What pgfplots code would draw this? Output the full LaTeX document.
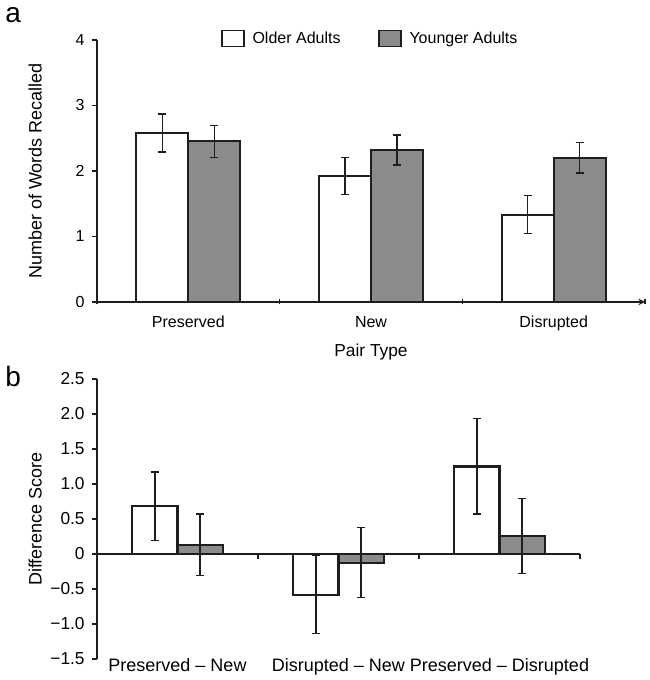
\documentclass[border=0pt]{standalone}
\usepackage{pgfplots}
\pgfplotsset{compat=1.18}
\usepackage{fontspec}
\setmainfont{Liberation Sans}
\definecolor{bargray}{HTML}{8A8B8D}
\definecolor{ink}{HTML}{1E1E1E}
\begin{document}
\begin{tikzpicture}
\path[use as bounding box] (0,0) rectangle (486.75pt,510pt);
\pgfplotsset{
  common/.style={
    scale only axis,
    axis y line=left,
    ybar,
    xmin=-0.5, xmax=2.5,
    axis line style={ink, line width=1.2pt, -},
    major tick length=3.75pt,
    tick style={ink, line width=1.2pt},
    tick align=outside,
    hide obscured x ticks=false,
    hide obscured y ticks=false,
    /pgf/number format/assume math mode=true,
    clip=false,
    yticklabel style={anchor=east, xshift=-2pt},
  },
  errs/.style={
    error bars/y dir=both, error bars/y explicit,
    error bars/error bar style={ink, line width=0.9pt},
    error bars/error mark options={rotate=90, ink, line width=0.9pt, mark size=3pt}},
  oldbar/.style={fill=white, draw=ink, line width=1.6pt, errs},
  youngbar/.style={fill=bargray, draw=ink, line width=1.6pt, errs},
}
\node[anchor=base west, font=\fontsize{21}{24}\selectfont, inner sep=0pt] at (3.75pt,492.75pt) {a};
\node[anchor=base west, font=\fontsize{21}{24}\selectfont, inner sep=0pt] at (3.75pt,219.75pt) {b};
% ---------------- panel a
\begin{axis}[common,
  at={(72.75pt,283.5pt)}, anchor=south west,
  width=411pt, height=196.5pt,
  axis x line=bottom,
  bar width=0.285,
  ymin=0, ymax=4, ytick={0,1,2,3,4},
  yticklabel style={font=\fontsize{12}{14}\selectfont},
  xtick={-0.5,0.5,1.5,2.5}, xticklabels={},
  extra x ticks={0,1,2},
  extra x tick labels={Preserved,New,Disrupted},
  extra x tick style={major tick length=0pt,
    xticklabel style={anchor=base, yshift=-19pt, font=\fontsize{12}{14}\selectfont}},
  xlabel={Pair Type},
  xlabel style={at={(axis description cs:0.5,-0.19)}, anchor=center, font=\fontsize{13}{15}\selectfont},
  ylabel={Number of Words Recalled},
  ylabel style={at={(axis description cs:-0.113,0.5)}, anchor=center, font=\fontsize{13.5}{16}\selectfont},
  legend columns=2,
  legend style={draw=none, fill=none, inner sep=0pt,
    at={(axis description cs:0.2257,1.0057)}, anchor=west,
    font=\fontsize{12}{14}\selectfont,
    /tikz/every odd column/.append style={column sep=4pt},
    /tikz/every even column/.append style={column sep=26pt}},
  legend image code/.code={\draw[#1, line width=1.2pt] (0pt,-5.9pt) rectangle (16.5pt,5.9pt);},
]
\addplot[oldbar, bar shift=-0.1425] coordinates {(0,2.58) +- (0,0.29) (1,1.92) +- (0,0.285) (2,1.33) +- (0,0.29)};
\addlegendentry{Older Adults}
\addplot[youngbar, bar shift=0.1425] coordinates {(0,2.455) +- (0,0.245) (1,2.32) +- (0,0.23) (2,2.2) +- (0,0.23)};
\addlegendentry{Younger Adults}
\end{axis}
% ---------------- panel b
\begin{axis}[common,
  at={(72.75pt,15.75pt)}, anchor=south west,
  width=362.25pt, height=210pt,
  axis x line*=middle,
  bar width=0.28,
  ymin=-1.5, ymax=2.5, ytick={-1.5,-1,...,2.5},
  yticklabels={−1.5,−1.0,−0.5,0,0.5,1.0,1.5,2.0,2.5},
  yticklabel style={font=\fontsize{13}{15}\selectfont},
  xtick={-0.5,0.5,1.5,2.5}, xticklabels={},
  extra x ticks={0,1,2},
  extra x tick labels={Preserved – New,Disrupted – New,Preserved – Disrupted},
  extra x tick style={major tick length=0pt,
    xticklabel style={anchor=base, yshift=-87.75pt, font=\fontsize{13.5}{16}\selectfont}},
  ylabel={Difference Score},
  ylabel style={at={(axis description cs:-0.128,0.5)}, anchor=center, font=\fontsize{13.5}{16}\selectfont},
]
\addplot[oldbar, bar shift=-0.14] coordinates {(0,0.68) +- (0,0.49) (1,-0.58) +- (0,0.56) (2,1.25) +- (0,0.68)};
\addplot[youngbar, bar shift=0.14] coordinates {(0,0.13) +- (0,0.44) (1,-0.125) +- (0,0.5) (2,0.26) +- (0,0.535)};
\end{axis}
\end{tikzpicture}
\end{document}
